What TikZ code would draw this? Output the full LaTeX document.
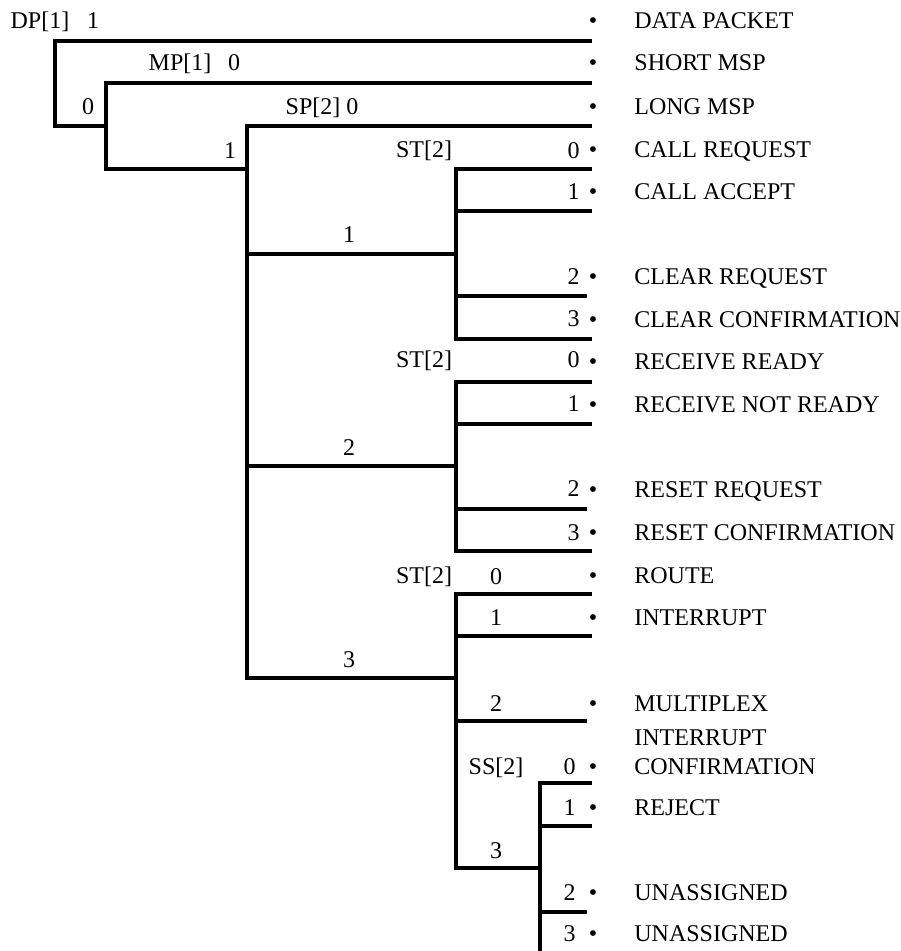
\documentclass[tikz,border=0pt]{standalone}
\usepackage{fontspec}
\setmainfont{Liberation Serif}
\usetikzlibrary{positioning}
\tikzset{
  wire/.style = {line width=1.6pt},
  lbl/.style  = {font=\fontsize{12}{14.5}\selectfont, inner sep=0pt, anchor=base},
  dig/.style  = {lbl, anchor=base east},
  bul/.style  = {lbl},
  item/.style = {lbl, anchor=base west},
}

\begin{document}
\begin{tikzpicture}[x=0.5pt, y=-0.5pt]
  \useasboundingbox (0,0) rectangle (900,951);
  % corners of the decoding tree
  \coordinate (rt)  at (592,0);
  \coordinate (dp)  at (55,41);
  \coordinate (mp)  at (106,83);
  \coordinate (sp)  at (247,126);
  \coordinate (stA) at (456,169);
  \coordinate (stB) at (456,382);
  \coordinate (stC) at (456,594);
  \coordinate (ss)  at (540,783);
  \coordinate (brA) at (456,254);
  \coordinate (brB) at (456,466);
  \coordinate (brC) at (456,678);
  \draw[wire] (rt |- dp) -- (dp) |- (mp |- sp);
  \draw[wire] (rt |- mp) -- (mp) |- (sp |- stA);
  \draw[wire] (rt |- sp) -- (sp) |- (brC);
  \draw[wire] (sp |- brA) -- (brA); \draw[wire] (sp |- brB) -- (brB);
  \draw[wire] (rt |- stA) -- (stA) -- ++(0,170) -- ++(136,0);
  \draw[wire] (stA) ++(0,42) -- ++(136,0); \draw[wire] (stA) ++(0,127) -- ++(131,0);
  \draw[wire] (rt |- stB) -- (stB) -- ++(0,169) -- ++(136,0);
  \draw[wire] (stB) ++(0,42) -- ++(136,0); \draw[wire] (stB) ++(0,127) -- ++(131,0);
  \draw[wire] (rt |- stC) -- (stC) |- (ss |- 0,868);
  \draw[wire] (stC) ++(0,42) -- ++(136,0); \draw[wire] (stC) ++(0,127) -- ++(131,0);
  \draw[wire] (rt |- ss) -- (ss) -- (ss |- 0,951);
  \draw[wire] (ss) ++(0,43) -- ++(52,0); \draw[wire] (ss) ++(0,129) -- ++(47,0);
  % field names and values
  \node[lbl] (dpn) at (40,29) {DP[1]};  \node[lbl] (dp1) at (93,29) {1};
  \node[lbl] (mpn) at (180,71) {MP[1]}; \node[lbl] (mp0) at (234,71) {0};
  \node[lbl] (dp0) at (88,115) {0};     \node[lbl] (spn) at (322,115) {SP[2] 0};
  \node[lbl] (mp1) at (230,159) {1};
  \node[lbl] (sp1) at (349,243) {1};
  \node[lbl] (sp2) at (349,455) {2};
  \node[lbl] (sp3) at (349,667) {3};
  \node[lbl] (stAn) at (424,158) {ST[2]};
  \node[lbl] (stBn) at (424,368) {ST[2]};
  \node[lbl] (stCn) at (424,583) {ST[2]};
  \node[lbl] (ssn) at (496,774) {SS[2]}; \node[lbl] (stC3) at (496,858) {3};
  \node[dig] (stA0) at (580,159) {0}; \node[dig] (stA1) at (580,200) {1};
  \node[dig] (stA2) at (580,285) {2}; \node[dig] (stA3) at (580,327) {3};
  \node[dig] (stB0) at (580,368) {0}; \node[dig] (stB1) at (580,411) {1};
  \node[dig] (stB2) at (580,496) {2}; \node[dig] (stB3) at (580,540) {3};
  \node[lbl] (stC0) at (496,584) {0}; \node[lbl] (stC1) at (496,625) {1};
  \node[lbl] (stC2) at (496,711) {2};
  \node[dig] (ss0) at (576,774) {0}; \node[dig] (ss1) at (576,815) {1};
  \node[dig] (ss2) at (576,900) {2}; \node[dig] (ss3) at (576,941) {3};
  % packet types
  \node[bul] (b1) at (593,29) {\textbullet};  \node[item] (t1) at (634,29) {DATA PACKET};
  \node[bul] (b2) at (593,71) {\textbullet};  \node[item] (t2) at (634,71) {SHORT MSP};
  \node[bul] (b3) at (593,115) {\textbullet}; \node[item] (t3) at (634,115) {LONG MSP};
  \node[bul] (b4) at (593,158) {\textbullet}; \node[item] (t4) at (634,158) {CALL REQUEST};
  \node[bul] (b5) at (593,200) {\textbullet}; \node[item] (t5) at (634,200) {CALL ACCEPT};
  \node[bul] (b6) at (593,285) {\textbullet}; \node[item] (t6) at (634,285) {CLEAR REQUEST};
  \node[bul] (b7) at (593,328) {\textbullet}; \node[item] (t7) at (634,328) {CLEAR CONFIRMATION};
  \node[bul] (b8) at (593,370) {\textbullet}; \node[item] (t8) at (634,370) {RECEIVE READY};
  \node[bul] (b9) at (593,412) {\textbullet}; \node[item] (t9) at (634,412) {RECEIVE NOT READY};
  \node[bul] (b10) at (593,497) {\textbullet}; \node[item] (t10) at (634,497) {RESET REQUEST};
  \node[bul] (b11) at (593,540) {\textbullet}; \node[item] (t11) at (634,540) {RESET CONFIRMATION};
  \node[bul] (b12) at (593,583) {\textbullet}; \node[item] (t12) at (634,583) {ROUTE};
  \node[bul] (b13) at (593,625) {\textbullet}; \node[item] (t13) at (634,625) {INTERRUPT};
  \node[bul] (b14) at (593,711) {\textbullet}; \node[item] (t14) at (634,711) {MULTIPLEX};
  \node[item] (t15a) at (634,745) {INTERRUPT};
  \node[bul] (b15) at (593,774) {\textbullet}; \node[item] (t15) at (634,774) {CONFIRMATION};
  \node[bul] (b16) at (593,815) {\textbullet}; \node[item] (t16) at (634,815) {REJECT};
  \node[bul] (b17) at (593,900) {\textbullet}; \node[item] (t17) at (634,900) {UNASSIGNED};
  \node[bul] (b18) at (593,941) {\textbullet}; \node[item] (t18) at (634,941) {UNASSIGNED};
\end{tikzpicture}
\end{document}
